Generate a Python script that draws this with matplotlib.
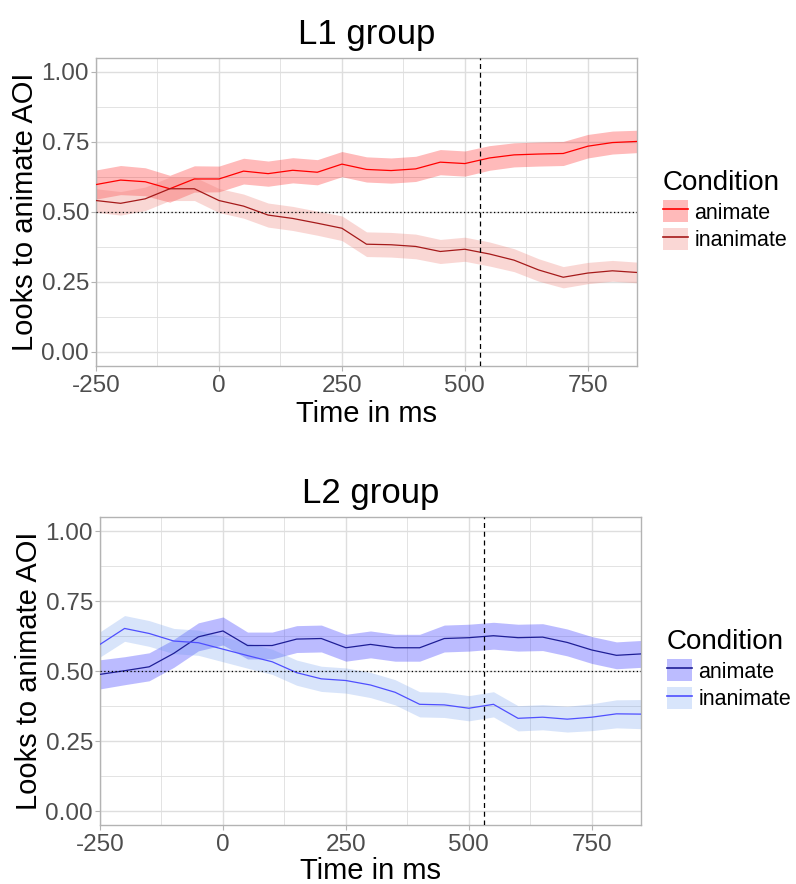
import matplotlib
matplotlib.use("Agg")
import matplotlib.pyplot as plt
from matplotlib.patches import Patch
from matplotlib.lines import Line2D
import numpy as np

plt.rcParams['font.family'] = ['Liberation Sans', 'DejaVu Sans']

time_ms = [-250, -200, -150, -100, -50, 0, 50, 100, 150, 200, 250, 300, 350,
           400, 450, 500, 550, 600, 650, 700, 750, 800, 850]

# L1 group
l1_animate = [0.598, 0.614, 0.608, 0.583, 0.618, 0.618, 0.646, 0.637, 0.649, 0.642,
              0.671, 0.652, 0.648, 0.654, 0.678, 0.673, 0.693, 0.704, 0.707, 0.709,
              0.735, 0.748, 0.752]
l1_animate_se = [0.052, 0.052, 0.050, 0.048, 0.047, 0.046, 0.046, 0.045, 0.045, 0.045,
                 0.045, 0.045, 0.045, 0.045, 0.045, 0.045, 0.044, 0.043, 0.043, 0.043,
                 0.042, 0.041, 0.040]
l1_inanimate = [0.541, 0.531, 0.547, 0.583, 0.583, 0.541, 0.521, 0.489, 0.477, 0.460,
                0.442, 0.385, 0.383, 0.377, 0.359, 0.367, 0.350, 0.328, 0.293, 0.267,
                0.282, 0.290, 0.284]
l1_inanimate_se = [0.042, 0.042, 0.042, 0.042, 0.042, 0.043, 0.043, 0.043, 0.043, 0.043,
                   0.044, 0.044, 0.044, 0.044, 0.043, 0.043, 0.043, 0.041, 0.040, 0.038,
                   0.038, 0.037, 0.037]

# L2 group
l2_animate = [0.488, 0.501, 0.515, 0.563, 0.622, 0.643, 0.591, 0.591, 0.614, 0.616,
              0.583, 0.595, 0.583, 0.583, 0.616, 0.619, 0.626, 0.619, 0.621, 0.602,
              0.575, 0.556, 0.561]
l2_animate_se = [0.052, 0.050, 0.050, 0.050, 0.050, 0.050, 0.048, 0.048, 0.048, 0.048,
                 0.048, 0.048, 0.048, 0.048, 0.048, 0.048, 0.048, 0.048, 0.048, 0.048,
                 0.048, 0.048, 0.048]
l2_inanimate = [0.595, 0.652, 0.634, 0.607, 0.601, 0.578, 0.555, 0.533, 0.494, 0.472,
                0.466, 0.450, 0.424, 0.381, 0.379, 0.367, 0.381, 0.331, 0.335, 0.328,
                0.335, 0.347, 0.346]
l2_inanimate_se = [0.045, 0.046, 0.046, 0.045, 0.045, 0.045, 0.045, 0.045, 0.045, 0.045,
                   0.045, 0.045, 0.045, 0.045, 0.045, 0.045, 0.045, 0.045, 0.045, 0.046,
                   0.048, 0.050, 0.052]

conditions = ["animate", "inanimate"]
titles = ["L1 group", "L2 group"]
x_ticks = [-250, 0, 250, 500, 750]
y_ticks = [0.00, 0.25, 0.50, 0.75, 1.00]
marker_time = 530

W, H = 796, 884
fig = plt.figure(figsize=(W / 100, H / 100), dpi=100)


def px_axes(left, top, right, bottom):
    return fig.add_axes([left / W, 1 - bottom / H, (right - left) / W, (bottom - top) / H])


panels = [
    dict(box=(96, 58, 637, 366), title=titles[0],
         series=[(l1_animate, l1_animate_se, "#FF0000", "#FF0000", 0.27),
                 (l1_inanimate, l1_inanimate_se, "#A51A1A", "#EE7B72", 0.30)],
         legend_xy=(663, 170), xlabelpad=2.5),
    dict(box=(100, 517, 641, 825), title=titles[1],
         series=[(l2_animate, l2_animate_se, "#1E1E96", "#3333FF", 0.33),
                 (l2_inanimate, l2_inanimate_se, "#4F4FFF", "#6495ED", 0.25)],
         legend_xy=(667, 629), xlabelpad=0.5),
]

grid_col = "#DEDEDE"
border_col = "#B3B3B3"
tick_col = "#4D4D4D"

for p in panels:
    ax = px_axes(*p["box"])
    t = np.array(time_ms)
    handles = []
    for (vals, se, lc, fc, a) in p["series"]:
        v = np.array(vals)
        s = np.array(se)
        ax.fill_between(t, v - s, v + s, color=fc, alpha=a, linewidth=0, zorder=2)
        ax.plot(t, v, color=lc, linewidth=0.9, zorder=3)
        rgb = np.array(matplotlib.colors.to_rgb(fc))
        eff = 1 - a * (1 - rgb)
        handles.append((Patch(facecolor=eff, edgecolor="none"),
                        Line2D([], [], color=lc, linewidth=1.2)))
    ax.axhline(0.5, color="black", linestyle=(0, (1, 2)), linewidth=0.9, zorder=4)
    ax.axvline(marker_time, color="black", linestyle=(0, (4, 3)), linewidth=0.9, zorder=4)

    ax.set_xlim(-250, 850)
    ax.set_ylim(-0.05, 1.05)
    ax.set_xticks(x_ticks)
    ax.set_xticklabels([str(v) for v in x_ticks])
    ax.set_yticks(y_ticks)
    ax.set_yticklabels([f"{v:.2f}" for v in y_ticks])
    ax.set_xticks([-125, 125, 375, 625], minor=True)
    ax.set_yticks([0.125, 0.375, 0.625, 0.875], minor=True)
    ax.grid(True, which="major", color=grid_col, linewidth=1.0, zorder=0)
    ax.grid(True, which="minor", color=grid_col, linewidth=0.6, zorder=0)
    ax.set_axisbelow(True)
    for sp in ax.spines.values():
        sp.set_color(border_col)
        sp.set_linewidth(1.0)
    ax.tick_params(axis="both", which="major", colors=border_col, length=3.5,
                   width=0.8, labelsize=17.5, labelcolor=tick_col, pad=3)
    ax.tick_params(axis="y", which="major", pad=1.5)
    ax.tick_params(axis="both", which="minor", length=0)
    ax.set_xlabel("Time in ms", fontsize=21, labelpad=p["xlabelpad"])
    ax.set_ylabel("Looks to animate AOI", fontsize=21, labelpad=2)
    ax.set_title(p["title"], fontsize=25, pad=10)

    lx, ly = p["legend_xy"]
    leg = fig.legend(handles, conditions, title="Condition", loc="upper left",
                     bbox_to_anchor=(lx / W, 1 - ly / H), frameon=False,
                     fontsize=15.5, title_fontsize=20, handlelength=1.15,
                     handleheight=1.2, labelspacing=0.2, handletextpad=0.3,
                     borderpad=0, borderaxespad=0, alignment="left")

fig.savefig("out.png", dpi=100)
